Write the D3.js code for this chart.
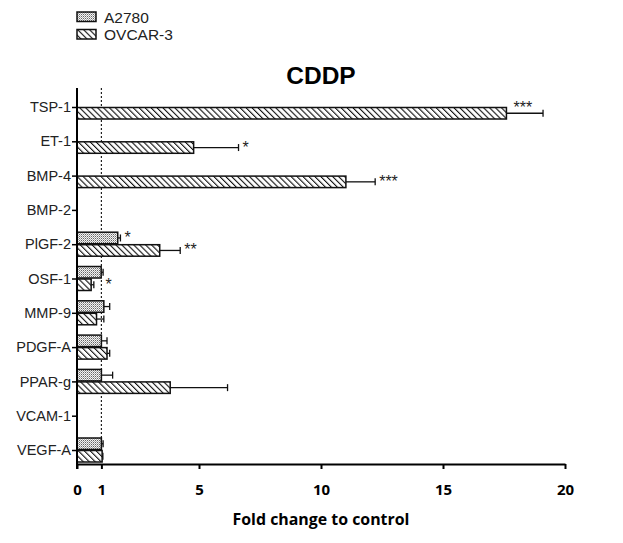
<!DOCTYPE html>
<html>
<head>
<meta charset="utf-8">
<script src="https://cdn.jsdelivr.net/npm/d3@7"></script>
<style>
  body { margin: 0; background: #fff; }
  svg text { font-family: "Liberation Sans", Arial, sans-serif; }
</style>
</head>
<body>
<svg id="chart" width="623" height="543"></svg>
<script>
// categories top to bottom
const genes = ['TSP-1', 'ET-1', 'BMP-4', 'BMP-2', 'PlGF-2', 'OSF-1', 'MMP-9', 'PDGF-A', 'PPAR-g', 'VCAM-1', 'VEGF-A'];
const seriesNames = ['A2780', 'OVCAR-3'];
// null = no bar
const a2780Mean = [null, null, null, null, 1.67, 0.99, 1.1, 1.0, 1.0, null, 1.0];
const a2780Err  = [null, null, null, null, 0.11, 0.08, 0.24, 0.23, 0.46, null, 0.07];
const a2780Sig  = ['', '', '', '', '*', '', '', '', '', '', ''];
const ovcarMean = [17.6, 4.78, 11.02, null, 3.39, 0.58, 0.8, 1.23, 3.82, null, 1.03];
const ovcarErr  = [1.5, 1.84, 1.2, null, 0.84, 0.11, 0.3, 0.11, 2.35, null, 0.03];
const ovcarSig  = ['***', '*', '***', '', '**', '*', '', '', '', '', ''];
const xTicks = [0, 1, 5, 10, 15, 20];

const margin = { top: 88, left: 77, right: 58, bottom: 79 };
const width = 623 - margin.left - margin.right;
const height = 543 - margin.top - margin.bottom;

const svg = d3.select('#chart');

// patterns
const defs = svg.append('defs');
const dots = defs.append('pattern')
    .attr('id', 'dots')
    .attr('patternUnits', 'userSpaceOnUse')
    .attr('width', 2).attr('height', 2);
dots.append('rect').attr('width', 2).attr('height', 2).attr('fill', '#f4f4f4');
dots.append('rect').attr('width', 1).attr('height', 1).attr('fill', '#666');
dots.append('rect').attr('x', 1).attr('y', 1).attr('width', 1).attr('height', 1).attr('fill', '#aaa');

const hatch = defs.append('pattern')
    .attr('id', 'hatch')
    .attr('patternUnits', 'userSpaceOnUse')
    .attr('width', 4.2).attr('height', 4.2)
    .attr('patternTransform', 'rotate(-45)');
hatch.append('rect').attr('width', 4.2).attr('height', 4.2).attr('fill', '#fff');
hatch.append('line')
    .attr('x1', 0).attr('y1', 0).attr('x2', 0).attr('y2', 4.2)
    .attr('stroke', '#111').attr('stroke-width', 2.2);

const fills = ['url(#dots)', 'url(#hatch)'];

const g = svg.append('g')
    .attr('transform', `translate(${margin.left},${margin.top})`);

const x = d3.scaleLinear().domain([0, 20]).range([0, width]);
const y = d3.scalePoint().domain(genes).range([19, height - 14]);
const barH = 12.5;

// reference line at 1
g.append('line')
    .attr('x1', x(1)).attr('x2', x(1))
    .attr('y1', 0).attr('y2', height)
    .attr('stroke', '#222')
    .attr('stroke-width', 1.2)
    .attr('stroke-dasharray', '2,2');

const rows = [
  { mean: a2780Mean, err: a2780Err, sig: a2780Sig, off: -barH },
  { mean: ovcarMean, err: ovcarErr, sig: ovcarSig, off: 0 }
];

const sigSize = 16;

rows.forEach((s, si) => {
  const data = genes.map((gene, i) => ({ gene, v: s.mean[i], e: s.err[i], sig: s.sig[i] }))
      .filter(d => d.v !== null);
  const grp = g.append('g');
  const cy = d => y(d.gene) + s.off + barH / 2;
  // error bars
  grp.selectAll('.err').data(data).join('line')
      .attr('x1', d => x(d.v)).attr('x2', d => x(d.v + d.e))
      .attr('y1', cy).attr('y2', cy)
      .attr('stroke', '#111').attr('stroke-width', 1.3);
  grp.selectAll('.cap').data(data).join('line')
      .attr('x1', d => x(d.v + d.e)).attr('x2', d => x(d.v + d.e))
      .attr('y1', d => cy(d) - 3.5)
      .attr('y2', d => cy(d) + 3.5)
      .attr('stroke', '#111').attr('stroke-width', 1.3);
  grp.selectAll('rect').data(data).join('rect')
      .attr('x', x(0))
      .attr('y', d => y(d.gene) + s.off + 0.5)
      .attr('width', d => x(d.v) - x(0))
      .attr('height', barH - 1)
      .attr('fill', fills[si])
      .attr('stroke', '#111')
      .attr('stroke-width', 1.5);
  // significance stars: after the cap, or above the whisker if no room
  grp.selectAll('text').data(data.filter(d => d.sig)).join('text')
      .each(function(d) {
        const w = d.sig.length * sigSize * 0.4;
        let tx = Math.max(x(d.v + d.e), x(1)) + 4;
        let ty = cy(d) + 5;
        if (tx + w > width) { tx = x(d.v) + 7; ty = cy(d) + 0; }
        d3.select(this).attr('x', tx).attr('y', ty);
      })
      .attr('font-size', sigSize)
      .attr('fill', '#222')
      .text(d => d.sig);
});

// y axis
const yAxis = g.append('g')
    .call(d3.axisLeft(y).tickSize(5).tickSizeOuter(0).tickPadding(1));
yAxis.select('.domain').attr('stroke-width', 2).attr('d', `M0,0V${height + 5}`);
yAxis.selectAll('.tick line').attr('stroke-width', 1.5);
yAxis.selectAll('.tick text')
    .attr('font-size', 14.5)
    .attr('fill', '#222')
    .style('font-family', '"Liberation Sans", Arial, sans-serif');

// x axis
const xAxis = g.append('g')
    .attr('transform', `translate(0,${height})`)
    .call(d3.axisBottom(x).tickValues(xTicks).tickSize(5).tickSizeOuter(0).tickPadding(15));
xAxis.select('.domain').attr('stroke-width', 2);
xAxis.selectAll('.tick line').attr('stroke-width', 2);
xAxis.selectAll('.tick text')
    .attr('font-size', 15)
    .attr('font-weight', 'bold')
    .attr('fill', '#000')
    .style('font-family', '"Open Sans", "Liberation Sans", sans-serif');

// axis title
svg.append('text')
    .attr('x', margin.left + width / 2)
    .attr('y', 525)
    .attr('text-anchor', 'middle')
    .attr('font-size', 15.9)
    .attr('font-weight', 'bold')
    .style('font-family', '"Open Sans", "Liberation Sans", sans-serif')
    .text('Fold change to control');

// chart title
svg.append('text')
    .attr('x', margin.left + width / 2)
    .attr('y', 84)
    .attr('text-anchor', 'middle')
    .attr('font-size', 24.5)
    .attr('font-weight', 'bold')
    .text('CDDP');

// legend
const legend = svg.append('g').attr('transform', 'translate(77,12)');
seriesNames.forEach((name, i) => {
  legend.append('rect')
      .attr('x', 0).attr('y', i * 17.5)
      .attr('width', 19).attr('height', 9.5)
      .attr('fill', fills[i])
      .attr('stroke', '#111').attr('stroke-width', 1.5);
  legend.append('text')
      .attr('x', 27).attr('y', i * 17.5 + 10.5)
      .attr('font-size', 15.5)
      .attr('fill', '#222')
      .text(name);
});
</script>
</body>
</html>
